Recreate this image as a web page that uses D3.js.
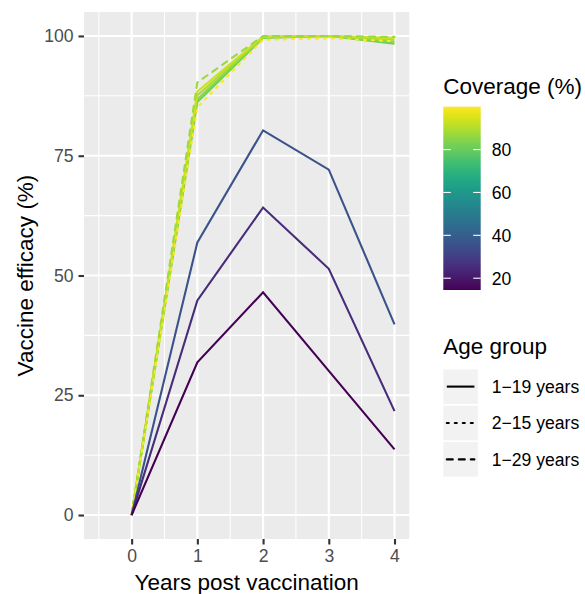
<!DOCTYPE html>
<html>
<head>
<meta charset="utf-8">
<script src="https://cdn.jsdelivr.net/npm/d3@7"></script>
<style>
  html, body { margin: 0; padding: 0; background: #ffffff; }
  svg { display: block; font-family: "Liberation Sans", Arial, Helvetica, sans-serif; }
</style>
</head>
<body>
<svg id="chart" width="585" height="594"></svg>
<script>
// Years after vaccination (x axis)
const years = [0, 1, 2, 3, 4];
const xDataRange = [-0.5, 4];

// Age groups shown in the linetype legend
const ageGroups = ["1\u221219 years", "2\u221215 years", "1\u221229 years"];

// One entry per simulated scenario: coverage (%) and the age group vaccinated
const seriesCoverage = [81, 85, 89, 93, 87, 100, 36, 25, 14.5];
const seriesAge = [
  "1\u221219 years", "1\u221219 years", "1\u221219 years", "1\u221219 years",
  "1\u221229 years", "2\u221215 years",
  "1\u221219 years", "1\u221219 years", "1\u221219 years"
];

// Vaccine efficacy (%) by year, one row per scenario
const efficacy = [
  [0, 86.2, 99.6, 100.0, 98.4],
  [0, 86.8, 99.7, 100.0, 98.8],
  [0, 87.6, 99.8, 100.0, 99.2],
  [0, 88.4, 99.9, 100.0, 99.6],
  [0, 90.3, 100.0, 100.0, 99.8],
  [0, 85.1, 99.2, 99.5, 98.9],
  [0, 56.9, 80.3, 72.1, 39.8],
  [0, 44.8, 64.2, 51.4, 21.7],
  [0, 31.9, 46.5, 30.1, 13.7]
];

// Axis ticks
const xTicks = [0, 1, 2, 3, 4];
const xMinor = [-0.5, 0.5, 1.5, 2.5, 3.5];
const yTicks = [0, 25, 50, 75, 100];
const yMinor = [12.5, 37.5, 62.5, 87.5];
const colorTicks = [20, 40, 60, 80];

const svg = d3.select("#chart");

const panel = { left: 84, right: 409.3, top: 12, bottom: 539 };

const xPad = (xDataRange[1] - xDataRange[0]) * 0.05;
const x = d3.scaleLinear()
  .domain([xDataRange[0] - xPad, xDataRange[1] + xPad])
  .range([panel.left, panel.right]);
const y = d3.scaleLinear()
  .domain([-5, 105])
  .range([panel.bottom, panel.top]);

const covExtent = d3.extent(seriesCoverage);
const color = d3.scaleSequential(d3.interpolateViridis).domain(covExtent);

const dashFor = {
  "1\u221219 years": null,
  "2\u221215 years": "2,6",
  "1\u221229 years": "6,6"
};

// Panel background and grid
svg.append("rect")
  .attr("x", panel.left).attr("y", panel.top)
  .attr("width", panel.right - panel.left)
  .attr("height", panel.bottom - panel.top)
  .attr("fill", "#ebebeb");

const grid = svg.append("g");
grid.selectAll(".xminor").data(xMinor).join("line")
  .attr("x1", d => x(d)).attr("x2", d => x(d))
  .attr("y1", panel.top).attr("y2", panel.bottom)
  .attr("stroke", "#ffffff").attr("stroke-width", 1.05);
grid.selectAll(".yminor").data(yMinor).join("line")
  .attr("y1", d => y(d)).attr("y2", d => y(d))
  .attr("x1", panel.left).attr("x2", panel.right)
  .attr("stroke", "#ffffff").attr("stroke-width", 1.05);
grid.selectAll(".xmajor").data(xTicks).join("line")
  .attr("x1", d => x(d)).attr("x2", d => x(d))
  .attr("y1", panel.top).attr("y2", panel.bottom)
  .attr("stroke", "#ffffff").attr("stroke-width", 2.1);
grid.selectAll(".ymajor").data(yTicks).join("line")
  .attr("y1", d => y(d)).attr("y2", d => y(d))
  .attr("x1", panel.left).attr("x2", panel.right)
  .attr("stroke", "#ffffff").attr("stroke-width", 2.1);

// Efficacy lines
const line = d3.line().x(d => x(d[0])).y(d => y(d[1]));
const series = efficacy.map((vals, i) => ({
  coverage: seriesCoverage[i],
  age: seriesAge[i],
  points: years.map((yr, j) => [yr, vals[j]])
}));
svg.append("g").selectAll("path").data(series).join("path")
  .attr("d", d => line(d.points))
  .attr("fill", "none")
  .attr("stroke", d => color(d.coverage))
  .attr("stroke-width", 2.1)
  .attr("stroke-linecap", d => dashFor[d.age] ? "round" : "butt")
  .attr("stroke-dasharray", d => dashFor[d.age]);

// Axes
const xAxis = d3.axisBottom(x).tickValues(xTicks).tickFormat(d3.format("d"))
  .tickSize(5.5).tickPadding(5);
const yAxis = d3.axisLeft(y).tickValues(yTicks).tickFormat(d3.format("d"))
  .tickSize(5.5).tickPadding(5);

const gx = svg.append("g").attr("transform", `translate(0,${panel.bottom})`).call(xAxis);
const gy = svg.append("g").attr("transform", `translate(${panel.left},0)`).call(yAxis);
[gx, gy].forEach(g => {
  g.select(".domain").remove();
  g.selectAll(".tick line").attr("stroke", "#333333").attr("stroke-width", 2.1);
  g.selectAll(".tick text")
    .attr("fill", "#4d4d4d")
    .style("font-size", "17.6px")
    .style("font-family", "'Liberation Sans', Arial, sans-serif");
});

// Axis titles
svg.append("text")
  .attr("x", (panel.left + panel.right) / 2).attr("y", 590)
  .attr("text-anchor", "middle")
  .style("font-size", "22.5px").attr("fill", "#000000")
  .text("Years post vaccination");
svg.append("text")
  .attr("transform", `translate(33,${(panel.top + panel.bottom) / 2}) rotate(-90)`)
  .attr("text-anchor", "middle")
  .style("font-size", "22.5px").attr("fill", "#000000")
  .text("Vaccine efficacy (%)");

// Colour bar legend
const legX = 443.3;
svg.append("text")
  .attr("x", legX).attr("y", 93.5)
  .style("font-size", "22.5px").attr("fill", "#000000")
  .text("Coverage (%)");

const bar = { x: legX, width: 37.4, top: 106.7, bottom: 290 };
const barScale = d3.scaleLinear().domain(covExtent).range([bar.bottom, bar.top]);

const defs = svg.append("defs");
const grad = defs.append("linearGradient")
  .attr("id", "covGrad")
  .attr("x1", 0).attr("y1", 1).attr("x2", 0).attr("y2", 0);
d3.range(0, 1.0001, 0.05).forEach(t => {
  grad.append("stop")
    .attr("offset", t)
    .attr("stop-color", d3.interpolateViridis(t));
});
svg.append("rect")
  .attr("x", bar.x).attr("y", bar.top)
  .attr("width", bar.width).attr("height", bar.bottom - bar.top)
  .attr("fill", "url(#covGrad)");

const cbTicks = svg.append("g");
cbTicks.selectAll(".l").data(colorTicks).join("line")
  .attr("x1", bar.x).attr("x2", bar.x + bar.width / 5)
  .attr("y1", d => barScale(d)).attr("y2", d => barScale(d))
  .attr("stroke", "#ffffff").attr("stroke-width", 1.1);
cbTicks.selectAll(".r").data(colorTicks).join("line")
  .attr("x1", bar.x + bar.width * 4 / 5).attr("x2", bar.x + bar.width)
  .attr("y1", d => barScale(d)).attr("y2", d => barScale(d))
  .attr("stroke", "#ffffff").attr("stroke-width", 1.1);
svg.append("g").selectAll("text").data(colorTicks).join("text")
  .attr("x", 491.7).attr("y", d => barScale(d))
  .attr("dy", "0.36em")
  .style("font-size", "17.6px").attr("fill", "#000000")
  .text(d => d);

// Linetype legend
svg.append("text")
  .attr("x", legX).attr("y", 353.5)
  .style("font-size", "22.5px").attr("fill", "#000000")
  .text("Age group");

const keyTop = 369.3, keyH = 34.6, keyStep = 36.4, keyW = 34.6;
const keys = svg.append("g").selectAll("g").data(ageGroups).join("g")
  .attr("transform", (d, i) => `translate(${legX},${keyTop + i * keyStep})`);
keys.append("rect")
  .attr("width", keyW).attr("height", keyH)
  .attr("fill", "#f2f2f2");
keys.append("line")
  .attr("x1", 3.5).attr("x2", keyW - 3.5)
  .attr("y1", keyH / 2).attr("y2", keyH / 2)
  .attr("stroke", "#000000").attr("stroke-width", 2.1)
  .attr("stroke-linecap", d => dashFor[d] ? "round" : "butt")
  .attr("stroke-dasharray", d => dashFor[d]);
keys.append("text")
  .attr("x", 491.7 - legX).attr("y", keyH / 2)
  .attr("dy", "0.36em")
  .style("font-size", "17.6px").attr("fill", "#000000")
  .text(d => d);
</script>
</body>
</html>
